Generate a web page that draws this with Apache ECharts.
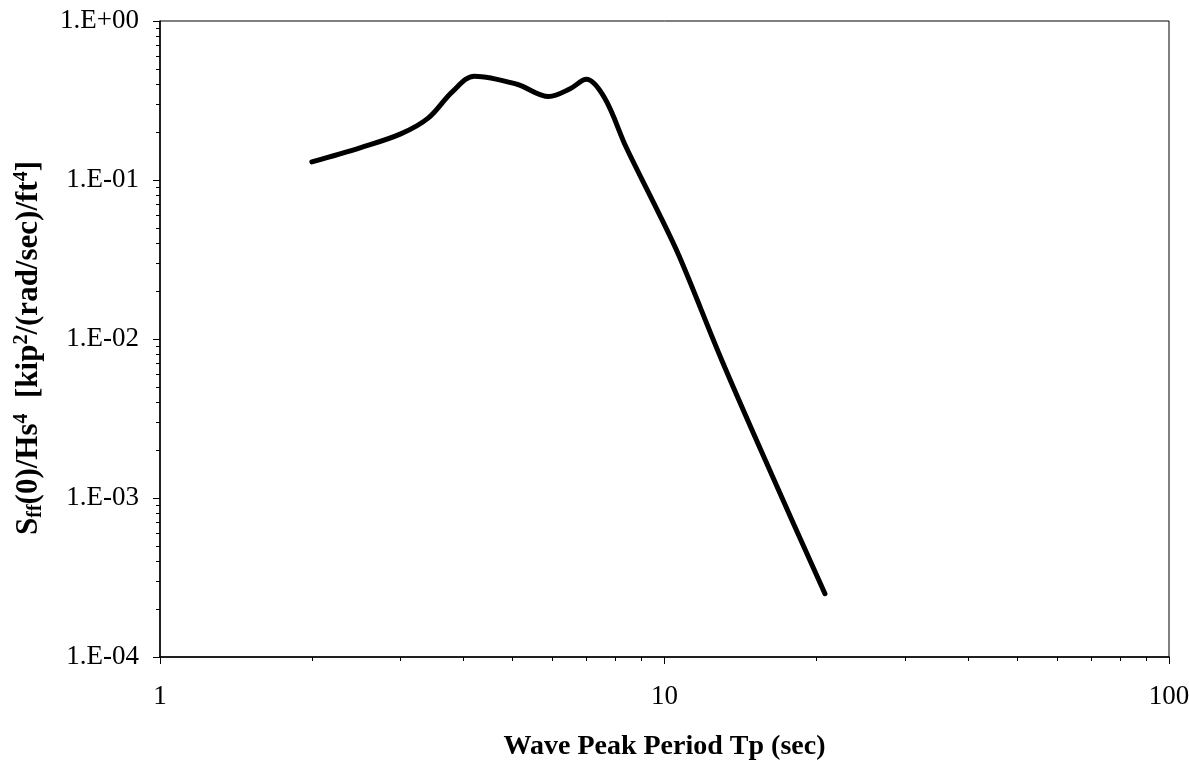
<!DOCTYPE html>
<html>
<head>
<meta charset="utf-8">
<script src="https://cdn.jsdelivr.net/npm/echarts@6/dist/echarts.min.js"></script>
<style>
  html, body { margin: 0; padding: 0; background: #fff; }
  #chart { width: 1189px; height: 763px; }
</style>
</head>
<body>
<div id="chart"></div>
<script>
// Wave peak period Tp (sec) and normalised force spectrum at zero frequency
const periods  = [2.0, 2.5, 3.0, 3.4, 3.8, 4.2, 5.1, 5.9, 6.5, 7.0, 7.6, 8.4, 9.6, 10.7, 13.0, 16.4, 20.8];
const spectrum = [0.13, 0.16, 0.195, 0.245, 0.36, 0.45, 0.40, 0.335, 0.375, 0.43, 0.33, 0.16, 0.068, 0.033, 0.0073, 0.00135, 0.00025];

// Decade tick labels
const xTickLabels = ['1', '10', '100'];
const yTickLabels = ['1.E-04', '1.E-03', '1.E-02', '1.E-01', '1.E+00'];

// Minor ticks inside each decade (2..9 pattern)
const xMinorTicks = [2, 3, 4, 5, 6, 7, 8, 9, 20, 30, 40, 50, 60, 70, 80, 90];
const yMinorTicks = [
  0.0002, 0.0003, 0.0004, 0.0005, 0.0006, 0.0007, 0.0008, 0.0009,
  0.002, 0.003, 0.004, 0.005, 0.006, 0.007, 0.008, 0.009,
  0.02, 0.03, 0.04, 0.05, 0.06, 0.07, 0.08, 0.09,
  0.2, 0.3, 0.4, 0.5, 0.6, 0.7, 0.8, 0.9
];

const FONT = '"Liberation Serif", "DejaVu Serif", serif';
const chart = echarts.init(document.getElementById('chart'));

const exp10 = v => Math.round(Math.log10(v));

chart.setOption({
  animation: false,
  backgroundColor: '#fff',
  grid: {
    left: 160, right: 20, top: 21, bottom: 106,
    outerBoundsMode: 'none',
    show: true, borderColor: '#000', borderWidth: 1, backgroundColor: 'transparent'
  },
  xAxis: [
    {
      type: 'log', logBase: 10, min: 1, max: 100,
      name: 'Wave Peak Period Tp (sec)',
      nameLocation: 'middle', nameGap: 76,
      nameTextStyle: { fontFamily: FONT, fontWeight: 'bold', fontSize: 28, color: '#000' },
      axisLine: { show: true, lineStyle: { color: '#000', width: 1.5 } },
      axisTick: { show: true, inside: false, length: 7, lineStyle: { color: '#000', width: 1 } },
      axisLabel: {
        margin: 26, fontFamily: FONT, fontSize: 27, color: '#000',
        formatter: v => xTickLabels[exp10(v)]
      },
      splitLine: { show: false },
      minorTick: { show: false }
    },
    {
      type: 'log', logBase: 10, min: 1, max: 100, position: 'bottom',
      axisLine: { show: false },
      axisTick: { show: true, inside: false, length: 4, customValues: xMinorTicks, lineStyle: { color: '#000', width: 1 } },
      axisLabel: { show: false },
      splitLine: { show: false }
    }
  ],
  yAxis: [
    {
      type: 'log', logBase: 10, min: 0.0001, max: 1,
      name: '{b|S}{sub|ff}{b|(0)/Hs}{sup|4}{b|  [kip}{sup|2}{b|/(rad/sec)/ft}{sup|4}{b|]}',
      nameLocation: 'middle', nameRotate: 90, nameGap: 97,
      nameTextStyle: {
        fontFamily: FONT, fontWeight: 'bold', fontSize: 31, color: '#000',
        padding: [0, 18, 0, 0],
        rich: {
          b:   { fontFamily: FONT, fontWeight: 'bold', fontSize: 31, color: '#000', lineHeight: 40, verticalAlign: 'middle' },
          sub: { fontFamily: FONT, fontWeight: 'bold', fontSize: 20, color: '#000', lineHeight: 40, verticalAlign: 'bottom', padding: [0, 0, 3, 0] },
          sup: { fontFamily: FONT, fontWeight: 'bold', fontSize: 20, color: '#000', lineHeight: 40, verticalAlign: 'top', padding: [3, 0, 0, 0] }
        }
      },
      axisLine: { show: true, lineStyle: { color: '#000', width: 1.5 } },
      axisTick: { show: true, inside: false, length: 7, lineStyle: { color: '#000', width: 1 } },
      axisLabel: {
        margin: 21, fontFamily: FONT, fontSize: 27, color: '#000',
        formatter: v => yTickLabels[exp10(v) + 4]
      },
      splitLine: { show: false }
    },
    {
      type: 'log', logBase: 10, min: 0.0001, max: 1, position: 'left',
      axisLine: { show: false },
      axisTick: { show: true, inside: false, length: 4, customValues: yMinorTicks, lineStyle: { color: '#000', width: 1 } },
      axisLabel: { show: false },
      splitLine: { show: false }
    }
  ],
  series: [
    {
      type: 'line',
      xAxisIndex: 0, yAxisIndex: 0,
      data: periods.map((p, i) => [p, spectrum[i]]),
      smooth: 0.35,
      showSymbol: false,
      lineStyle: { color: '#000', width: 5, cap: 'round', join: 'round' }
    }
  ]
});
</script>
</body>
</html>
